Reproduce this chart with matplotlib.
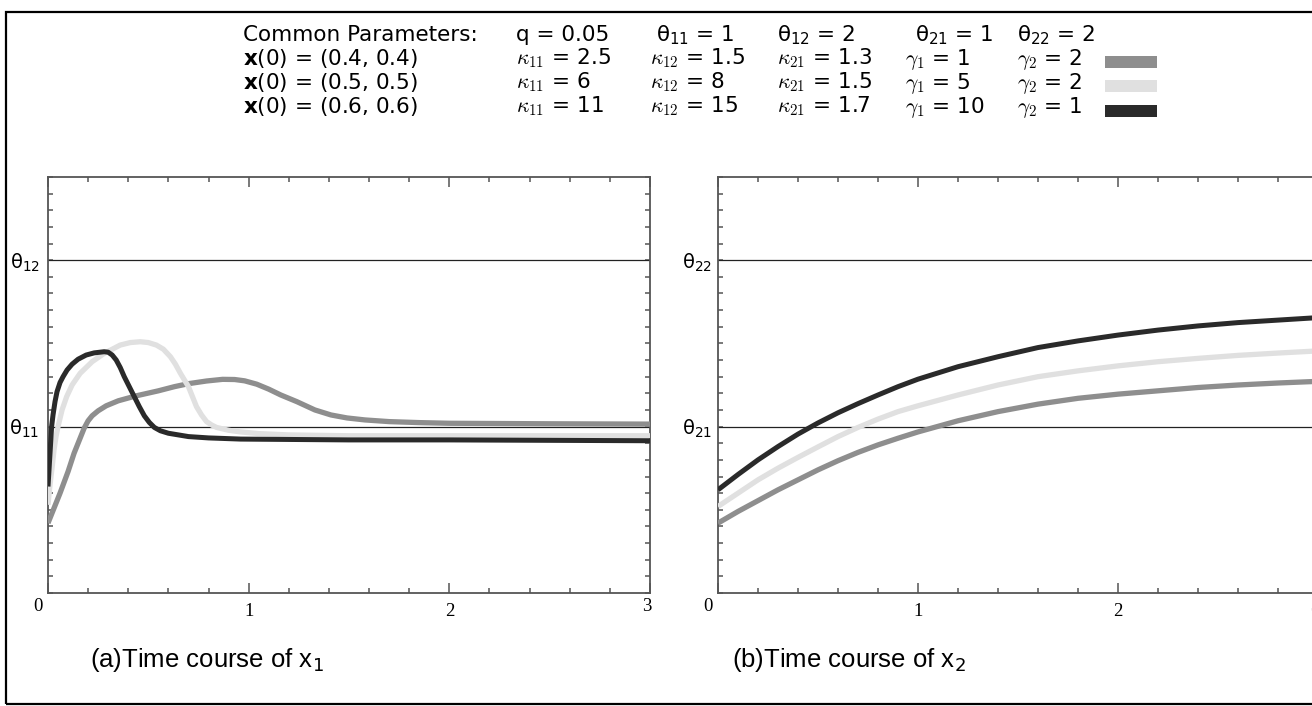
import numpy as np
import matplotlib
matplotlib.use("Agg")
import matplotlib.pyplot as plt
import matplotlib.transforms as mtransforms
from matplotlib.patches import Rectangle

# ---- data ----
# (a) x1 time courses
t1_a = [0, 0.03, 0.06, 0.1, 0.13, 0.16, 0.18, 0.2, 0.22, 0.25, 0.29, 0.35, 0.44, 0.55, 0.63, 0.7,
        0.79, 0.87, 0.93, 0.98, 1.04, 1.1, 1.16, 1.24, 1.33, 1.41, 1.49, 1.58, 1.7, 1.85, 2.0, 2.5, 3.0]
x1_a = [0.42, 0.51, 0.60, 0.73, 0.84, 0.93, 0.99, 1.035, 1.065, 1.095, 1.125, 1.155, 1.185, 1.215,
        1.24, 1.258, 1.274, 1.284, 1.283, 1.275, 1.255, 1.225, 1.19, 1.15, 1.10, 1.07, 1.052, 1.04,
        1.03, 1.024, 1.02, 1.017, 1.015]

t1_b = [0, 0.01, 0.02, 0.03, 0.04, 0.05, 0.07, 0.093, 0.12, 0.16, 0.22, 0.28, 0.36, 0.41, 0.46, 0.5,
        0.54, 0.575, 0.61, 0.635, 0.66, 0.68, 0.7, 0.72, 0.74, 0.765, 0.79, 0.815, 0.84, 0.9, 0.96,
        1.05, 1.2, 1.5, 2.0, 3.0]
x1_b = [0.53, 0.65, 0.75, 0.86, 0.94, 1.0, 1.10, 1.18, 1.25, 1.32, 1.39, 1.44, 1.49, 1.505, 1.51,
        1.505, 1.49, 1.465, 1.42, 1.375, 1.32, 1.28, 1.24, 1.18, 1.12, 1.07, 1.03, 1.01, 0.995, 0.978,
        0.968, 0.958, 0.95, 0.945, 0.945, 0.945]

t1_c = [0, 0.005, 0.01, 0.018, 0.025, 0.035, 0.045, 0.06, 0.075, 0.095, 0.12, 0.15, 0.19, 0.23, 0.28,
        0.30, 0.32, 0.34, 0.36, 0.38, 0.405, 0.43, 0.455, 0.48, 0.505, 0.53, 0.56, 0.6, 0.65, 0.7, 0.8,
        0.96, 1.5, 2.0, 3.0]
x1_c = [0.64, 0.74, 0.84, 1.0, 1.07, 1.15, 1.21, 1.265, 1.30, 1.34, 1.375, 1.405, 1.43, 1.443, 1.45,
        1.447, 1.43, 1.40, 1.355, 1.30, 1.24, 1.18, 1.12, 1.065, 1.025, 0.995, 0.975, 0.96, 0.95, 0.94,
        0.932, 0.925, 0.92, 0.92, 0.915]

# (b) x2 time courses
t2 = [0, 0.1, 0.2, 0.3, 0.4, 0.5, 0.6, 0.7, 0.8, 0.9, 1.0, 1.2, 1.4, 1.6, 1.8, 2.0, 2.2, 2.4, 2.6, 2.8, 3.0]
x2_a = [0.42, 0.49, 0.555, 0.62, 0.68, 0.74, 0.795, 0.845, 0.89, 0.93, 0.968, 1.035, 1.09, 1.135, 1.17,
        1.195, 1.215, 1.235, 1.25, 1.262, 1.272]
x2_b = [0.52, 0.60, 0.68, 0.75, 0.815, 0.878, 0.94, 0.995, 1.045, 1.09, 1.125, 1.19, 1.25, 1.30, 1.335,
        1.365, 1.39, 1.41, 1.428, 1.442, 1.455]
x2_c = [0.62, 0.712, 0.80, 0.88, 0.955, 1.022, 1.083, 1.138, 1.19, 1.24, 1.285, 1.36, 1.42, 1.475, 1.515,
        1.55, 1.58, 1.605, 1.625, 1.64, 1.655]

# parameter table
common_items = ["q = 0.05", "θ$_{11}$ = 1", "θ$_{12}$ = 2", "θ$_{21}$ = 1", "θ$_{22}$ = 2"]
x0_labels = ["(0.4, 0.4)", "(0.5, 0.5)", "(0.6, 0.6)"]
kappa11 = ["2.5", "6", "11"]
kappa12 = ["1.5", "8", "15"]
kappa21 = ["1.3", "1.5", "1.7"]
gamma1 = ["1", "5", "10"]
gamma2 = ["2", "2", "1"]
colors = ["#8e8e8e", "#e0e0e0", "#2a2a2a"]

xticks = [0, 1, 2, 3]
left_ylabels = ["θ$_{11}$", "θ$_{12}$"]
right_ylabels = ["θ$_{21}$", "θ$_{22}$"]

# ---- figure ----
W, H = 1312, 706
fig = plt.figure(figsize=(W / 100, H / 100), dpi=100)


def fx(px):
    return px / W


def fy(py):
    return 1 - py / H


ax1 = fig.add_axes([fx(48), fy(593), 602 / W, 416 / H])
ax2 = fig.add_axes([fx(718), fy(593), 600 / W, 416 / H])

ax1.plot(t1_a, x1_a, color=colors[0], lw=3.8, solid_capstyle="butt", zorder=3)
ax1.plot(t1_b, x1_b, color=colors[1], lw=3.8, solid_capstyle="butt", zorder=4)
ax1.plot(t1_c, x1_c, color=colors[2], lw=3.6, solid_capstyle="butt", zorder=5)

ax2.plot(t2, x2_a, color=colors[0], lw=3.8, solid_capstyle="butt", zorder=3)
ax2.plot(t2, x2_b, color=colors[1], lw=3.8, solid_capstyle="butt", zorder=4)
ax2.plot(t2, x2_c, color=colors[2], lw=3.6, solid_capstyle="butt", zorder=5)

for ax, ylabs, ypad in [(ax1, left_ylabels, 6), (ax2, right_ylabels, 4.5)]:
    ax.set_xlim(0, 3)
    ax.set_ylim(0, 2.5)
    ax.axhline(1, color="#222222", lw=0.9, zorder=2)
    ax.axhline(2, color="#222222", lw=0.9, zorder=2)
    for s in ax.spines.values():
        s.set_color("#555555")
        s.set_linewidth(1.3)
    ax.set_xticks(xticks)
    ax.set_xticklabels([str(v) for v in xticks], fontfamily="Liberation Serif", fontsize=13.5)
    ax.set_xticks(np.arange(0, 3.01, 0.2), minor=True)
    ax.set_yticks([1, 2])
    ax.set_yticklabels(ylabs, fontfamily="DejaVu Sans", fontsize=14)
    ax.set_yticks(np.arange(0, 2.51, 0.1), minor=True)
    ax.tick_params(which="both", direction="in", top=True, right=True, color="#555555", width=1.1)
    ax.tick_params(axis="x", which="major", length=7, pad=7.5)
    ax.tick_params(axis="x", which="minor", length=3.5)
    ax.tick_params(axis="y", which="both", length=3.5, pad=ypad)
    xt = ax.xaxis.get_major_ticks()
    xt[0].label1.set_transform(xt[0].label1.get_transform()
                               + mtransforms.ScaledTranslation(-0.10, 0.05, fig.dpi_scale_trans))
    xt[3].label1.set_transform(xt[3].label1.get_transform()
                               + mtransforms.ScaledTranslation(-0.03, 0.05, fig.dpi_scale_trans))

# ---- parameter table at top ----
hfs = 15.5
fig.text(fx(243), fy(41), "Common Parameters:", fontsize=hfs, family="DejaVu Sans", va="baseline")
for xp, txt in zip([516, 656, 777, 915, 1017], common_items):
    fig.text(fx(xp), fy(41), txt, fontsize=hfs, family="DejaVu Sans", va="baseline")

row_base = [64.5, 88.5, 112.5]
sw_center = [61.5, 86, 111]
for i in range(3):
    yb = fy(row_base[i])
    fig.text(fx(243), yb, "$\\mathbf{x}$(0) = " + x0_labels[i], fontsize=hfs, family="DejaVu Sans",
             va="baseline")
    fig.text(fx(516), yb, "$\\kappa_{11}$ = " + kappa11[i], fontsize=hfs, family="DejaVu Sans",
             va="baseline", math_fontfamily="cm")
    fig.text(fx(650), yb, "$\\kappa_{12}$ = " + kappa12[i], fontsize=hfs, family="DejaVu Sans",
             va="baseline", math_fontfamily="cm")
    fig.text(fx(777), yb, "$\\kappa_{21}$ = " + kappa21[i], fontsize=hfs, family="DejaVu Sans",
             va="baseline", math_fontfamily="cm")
    fig.text(fx(905), yb, "$\\gamma_1$ = " + gamma1[i], fontsize=hfs, family="DejaVu Sans",
             va="baseline", math_fontfamily="cm")
    fig.text(fx(1017), yb, "$\\gamma_2$ = " + gamma2[i], fontsize=hfs, family="DejaVu Sans",
             va="baseline", math_fontfamily="cm")
    fig.patches.append(Rectangle((fx(1105), fy(sw_center[i] + 6)), 52 / W, 12 / H,
                                 transform=fig.transFigure, facecolor=colors[i], edgecolor="none"))

# ---- captions ----
cap_font = ["Liberation Sans", "DejaVu Sans"]
fig.text(fx(90), fy(667), "(a)Time course of x$_1$", fontsize=18.5, family=cap_font, va="baseline")
fig.text(fx(732), fy(667), "(b)Time course of x$_2$", fontsize=18.5, family=cap_font, va="baseline")

# outer frame
fig.patches.append(Rectangle((fx(6), fy(704)), 1.2, (704 - 12) / H, transform=fig.transFigure,
                             facecolor="none", edgecolor="black", lw=1.6, clip_on=False))

fig.savefig("out.png", dpi=100)
